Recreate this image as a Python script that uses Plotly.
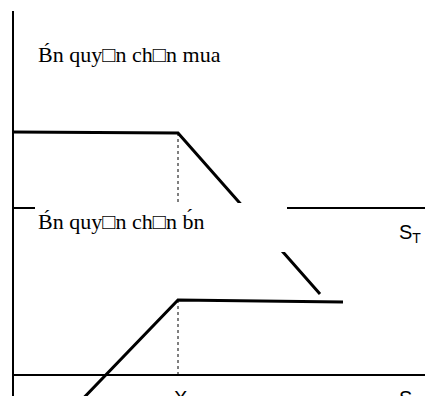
import plotly.graph_objects as go

# ---- data (units: price / payoff, origin at the axes' crossing) ----
strike = 165
call_ST = [0, 165, 307]          # short call: S_T values
call_payoff = [76, 75, -86]      # short call profit
put_ST = [60, 165, 330]          # short put: S_T values
put_payoff = [-34, 75, 73]       # short put profit
axis_len_x = 412
axis_top = 197

title_call = "B\u0301n quy\u25a1n ch\u25a1n mua"
title_put = "B\u0301n quy\u25a1n ch\u25a1n b\u0301n"

fig = go.Figure()
line_k = dict(color="black", width=3)
ax_k = dict(color="black", width=2)

# vertical (profit) axis shared by both panels
fig.add_trace(go.Scatter(x=[0, 0], y=[axis_top, -200], mode="lines", line=ax_k, yaxis="y"))
# horizontal S_T axes
fig.add_trace(go.Scatter(x=[0, axis_len_x], y=[0, 0], mode="lines", line=ax_k, yaxis="y"))
fig.add_trace(go.Scatter(x=[0, axis_len_x], y=[0, 0], mode="lines", line=ax_k, yaxis="y2"))
# dotted strike guides
fig.add_trace(go.Scatter(x=[strike, strike], y=[call_payoff[1], 0], mode="lines",
                         line=dict(color="black", width=1, dash="dot"), yaxis="y"))
fig.add_trace(go.Scatter(x=[strike, strike], y=[put_payoff[1], 0], mode="lines",
                         line=dict(color="black", width=1, dash="dot"), yaxis="y2"))
# payoff lines
fig.add_trace(go.Scatter(x=call_ST, y=call_payoff, mode="lines", line=line_k, yaxis="y"))
fig.add_trace(go.Scatter(x=put_ST, y=put_payoff, mode="lines", line=line_k, yaxis="y2"))

serif = dict(family="Liberation Serif", size=22, color="black")
sans = dict(family="Liberation Sans", size=20, color="black")

shapes = [
    dict(type="rect", xref="x", yref="y", x0=22, x1=274, y0=-44, y1=5,
         fillcolor="white", line=dict(width=0), layer="above"),
]

annotations = [
    dict(x=23, y=154, xref="x", yref="y", text=title_call, showarrow=False,
         xanchor="left", yanchor="middle", font=serif),
    dict(x=23, y=-13, xref="x", yref="y", text=title_put, showarrow=False,
         xanchor="left", yanchor="middle", font=serif),
    dict(x=384, y=-25, xref="x", yref="y", text="S<sub>T</sub>", showarrow=False,
         xanchor="left", yanchor="middle", font=sans),
    dict(x=strike + 2, y=-10, xref="x", yref="y2", text="X", showarrow=False,
         xanchor="center", yanchor="top", font=sans),
    dict(x=384, y=-10, xref="x", yref="y2", text="S<sub>T</sub>", showarrow=False,
         xanchor="left", yanchor="top", font=sans),
]

fig.update_layout(
    width=425, height=396,
    margin=dict(l=0, r=0, t=0, b=0),
    paper_bgcolor="white", plot_bgcolor="white",
    showlegend=False,
    xaxis=dict(range=[-13, 412], visible=False, fixedrange=True),
    yaxis=dict(range=[-188, 208], visible=False, fixedrange=True),
    yaxis2=dict(range=[-21, 375], visible=False, overlaying="y", fixedrange=True),
    shapes=shapes,
    annotations=annotations,
)

fig.write_html(
    "out.html",
    config=dict(displayModeBar=False),
    post_script="document.body.style.margin='0';document.body.style.overflow='hidden';",
)
